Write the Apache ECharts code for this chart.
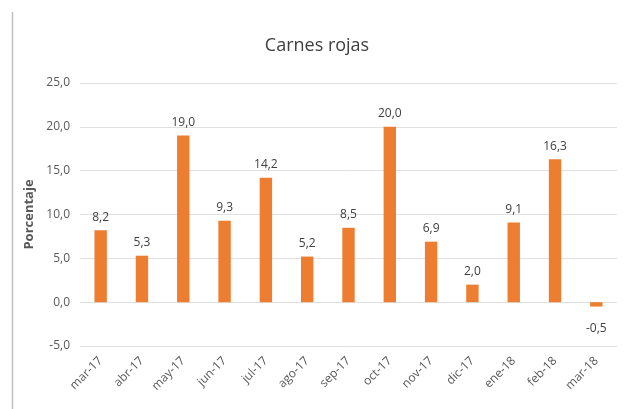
<!DOCTYPE html>
<html>
<head>
<meta charset="utf-8">
<script src="https://cdn.jsdelivr.net/npm/echarts@6/dist/echarts.min.js"></script>
<style>html,body{margin:0;padding:0;background:#fff;}#c{width:634px;height:409px;}</style>
</head>
<body>
<div id="c"></div>
<script>
const categories = ['mar-17','abr-17','may-17','jun-17','jul-17','ago-17','sep-17','oct-17','nov-17','dic-17','ene-18','feb-18','mar-18'];
const values = [8.2, 5.3, 19.0, 9.3, 14.2, 5.2, 8.5, 20.0, 6.9, 2.0, 9.1, 16.3, -0.5];
const yTicks = [-5, 0, 5, 10, 15, 20, 25];

const fmt = v => Number(v).toFixed(1).replace('.', ',');
const FONT = '"Open Sans", "Noto Sans", sans-serif';

const chart = echarts.init(document.getElementById('c'), null, {renderer: 'canvas'});
chart.setOption({
  animation: false,
  textStyle: {fontFamily: FONT},
  title: {
    text: 'Carnes rojas', left: 'center', top: 32,
    textStyle: {fontSize: 18, fontWeight: 'normal', color: '#404040', fontFamily: FONT}
  },
  graphic: [{
    type: 'line', shape: {x1: 12.5, y1: 12, x2: 12.5, y2: 409},
    style: {stroke: '#bfbfbf', lineWidth: 1.5}
  }],
  grid: {left: 80, right: 17, top: 83, bottom: 63, containLabel: false},
  xAxis: {
    type: 'category', data: categories,
    axisLine: {show: false},
    axisTick: {show: false},
    axisLabel: {rotate: 45, color: '#595959', fontSize: 12, margin: 13, fontFamily: FONT, interval: 0}
  },
  yAxis: {
    type: 'value', min: yTicks[0], max: yTicks[yTicks.length - 1], interval: 5,
    name: 'Porcentaje', nameLocation: 'middle', nameGap: 44,
    nameTextStyle: {fontWeight: 'bold', fontSize: 13, color: '#595959', fontFamily: FONT},
    axisLine: {show: false}, axisTick: {show: false},
    axisLabel: {formatter: fmt, color: '#595959', fontSize: 12, margin: 10, fontFamily: FONT},
    splitLine: {lineStyle: {color: '#e0e0e0', width: 1}}
  },
  series: [{
    type: 'bar', barWidth: '30%',
    itemStyle: {color: '#ED7D31'},
    data: values.map(v => v < 0 ? {value: v, label: {position: 'bottom', distance: 16}} : v),
    label: {
      show: true, position: 'top', distance: 7,
      formatter: p => fmt(p.value), color: '#404040', fontSize: 12, fontFamily: FONT
    }
  }]
});
</script>
</body>
</html>
